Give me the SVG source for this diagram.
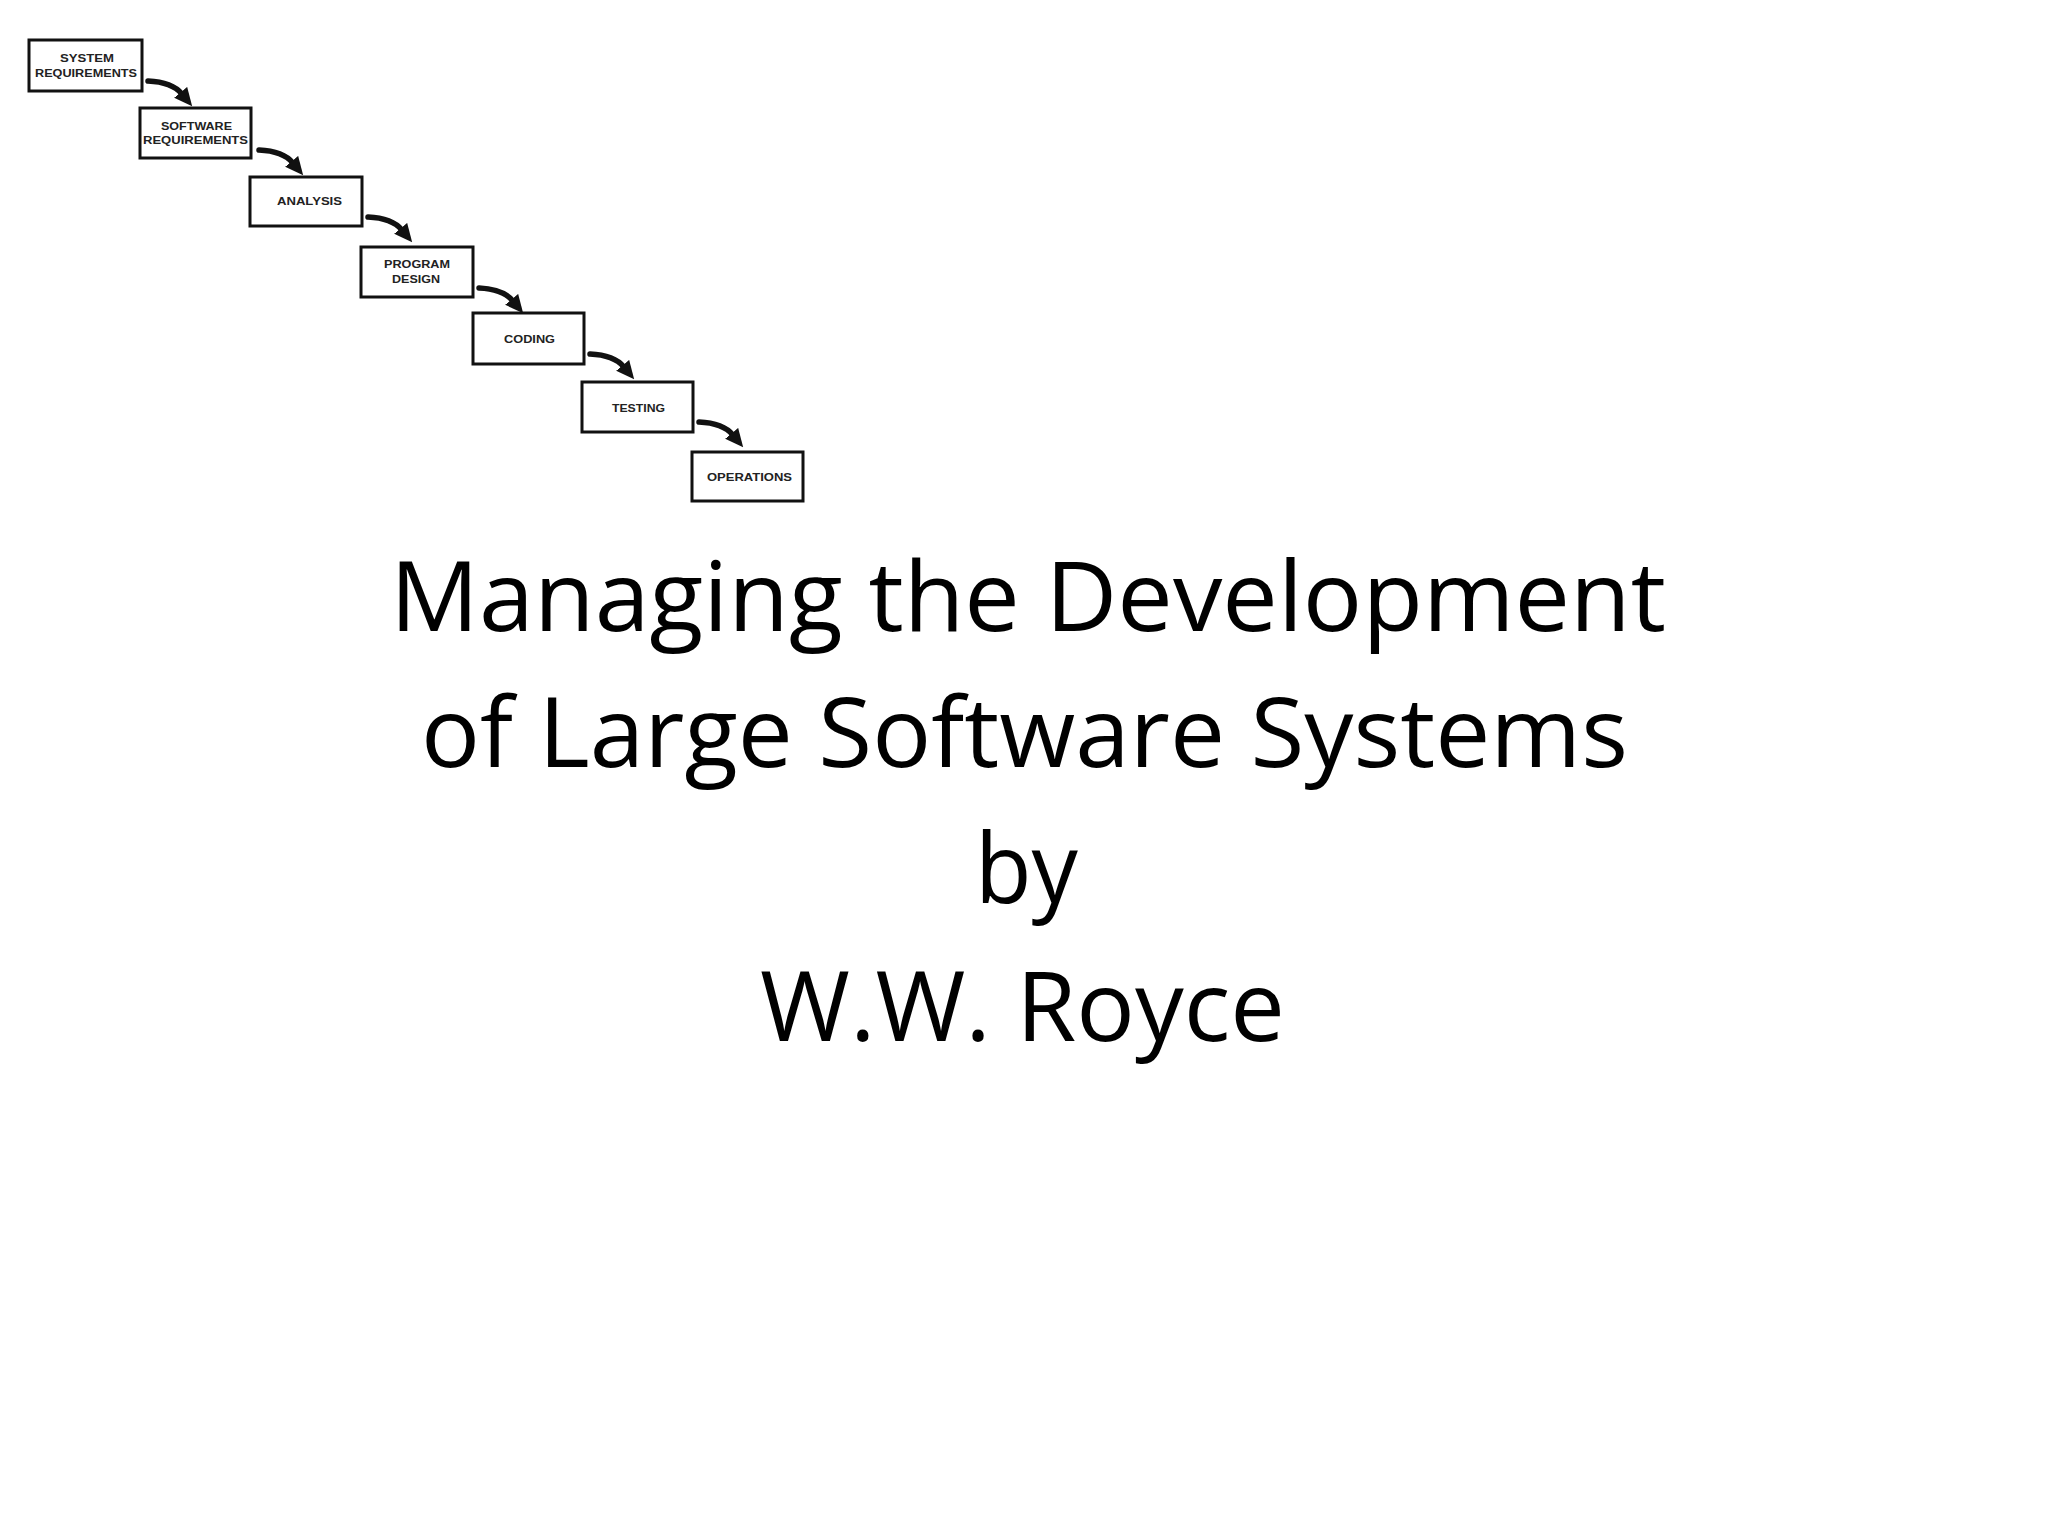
<svg xmlns="http://www.w3.org/2000/svg" width="2048" height="1536" viewBox="0 0 2048 1536">
<style>
.box rect{fill:#fff;stroke:#111;stroke-width:3}
.lbl{font-family:"Liberation Sans",Arial,sans-serif;font-weight:bold;font-size:10.5px;fill:#222;text-anchor:start}
.title{font-family:"Open Sans","Noto Sans",sans-serif;font-size:97px;fill:#000}
.conn path{fill:none;stroke:#111;stroke-width:5.5;stroke-linecap:round}
</style>
<defs>
<marker id="ah" markerUnits="userSpaceOnUse" markerWidth="18" markerHeight="18" refX="2" refY="8" orient="auto" viewBox="0 0 17 16">
<path d="M0,0 L17,8 L0,16 Z" fill="#111"/>
</marker>
</defs>
<rect width="2048" height="1536" fill="#fff"/>

<g id="connectors" class="conn">
<path d="M148,81 Q172,82 182,94" marker-end="url(#ah)"/>
<path d="M259,150 Q283,151 293,163" marker-end="url(#ah)"/>
<path d="M368,217 Q392,218 402,230" marker-end="url(#ah)"/>
<path d="M479,288 Q503,289 513,301" marker-end="url(#ah)"/>
<path d="M590,354 Q614,355 624,367" marker-end="url(#ah)"/>
<path d="M699,422 Q723,423 733,435" marker-end="url(#ah)"/>
</g>

<g id="n1" class="box"><rect x="29" y="40" width="113" height="51"/>
<text class="lbl" x="60" y="62" textLength="54" lengthAdjust="spacingAndGlyphs">SYSTEM</text>
<text class="lbl" x="35" y="77" textLength="102" lengthAdjust="spacingAndGlyphs">REQUIREMENTS</text></g>

<g id="n2" class="box"><rect x="140" y="108" width="111" height="50"/>
<text class="lbl" x="161" y="130" textLength="71" lengthAdjust="spacingAndGlyphs">SOFTWARE</text>
<text class="lbl" x="143" y="144" textLength="105" lengthAdjust="spacingAndGlyphs">REQUIREMENTS</text></g>

<g id="n3" class="box"><rect x="250" y="177" width="112" height="49"/>
<text class="lbl" x="277" y="205" textLength="65" lengthAdjust="spacingAndGlyphs">ANALYSIS</text></g>

<g id="n4" class="box"><rect x="361" y="247" width="112" height="50"/>
<text class="lbl" x="384" y="268" textLength="66" lengthAdjust="spacingAndGlyphs">PROGRAM</text>
<text class="lbl" x="392" y="283" textLength="48" lengthAdjust="spacingAndGlyphs">DESIGN</text></g>

<g id="n5" class="box"><rect x="473" y="313" width="111" height="51"/>
<text class="lbl" x="504" y="343" textLength="51" lengthAdjust="spacingAndGlyphs">CODING</text></g>

<g id="n6" class="box"><rect x="582" y="382" width="111" height="50"/>
<text class="lbl" x="612" y="412" textLength="53" lengthAdjust="spacingAndGlyphs">TESTING</text></g>

<g id="n7" class="box"><rect x="692" y="452" width="111" height="49"/>
<text class="lbl" x="707" y="481" textLength="85" lengthAdjust="spacingAndGlyphs">OPERATIONS</text></g>

<g id="title">
<text class="title" x="390" y="631" textLength="1276" lengthAdjust="spacingAndGlyphs">Managing the Development</text>
<text class="title" x="421" y="767" textLength="1207" lengthAdjust="spacingAndGlyphs">of Large Software Systems</text>
<text class="title" x="975" y="903" textLength="103" lengthAdjust="spacingAndGlyphs">by</text>
<text class="title" x="760" y="1041" textLength="525" lengthAdjust="spacingAndGlyphs">W.W. Royce</text>
</g>
</svg>
